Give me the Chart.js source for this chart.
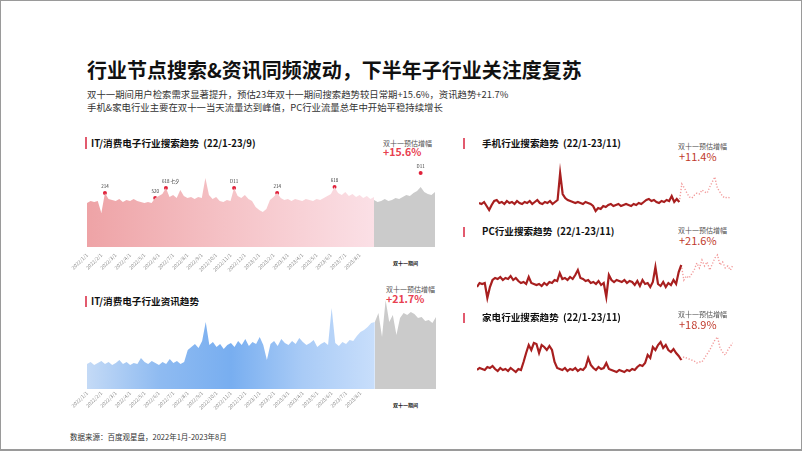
<!DOCTYPE html>
<html lang="zh-CN">
<head>
<meta charset="utf-8">
<title>行业节点搜索&资讯同频波动</title>
<script src="https://cdn.jsdelivr.net/npm/chart.js@4.4.1/dist/chart.umd.min.js"></script>
<style>
    html, body { margin: 0; padding: 0; background: #fff; }
    body { width: 802px; height: 451px; position: relative; overflow: hidden;
           font-family: "Noto Sans CJK SC", "Noto Sans", sans-serif; color: #222; }
    .frame { position: absolute; left: 0; top: 0; width: 802px; height: 451px; box-sizing: border-box;
             border: 1px solid #9a9a9a; border-bottom-width: 2px; pointer-events: none; }
    .t { position: absolute; white-space: pre; line-height: 1; }
    .bar { position: absolute; width: 2px; background: #e25a6e; }
    canvas { position: absolute; }
    .h1 { font-size: 20px; font-weight: bold; color: #111; }
    .sub { font-size: 9.4px; color: #333; }
    .ct { font-size: 9.6px; font-weight: bold; color: #111; }
    .est { font-size: 7px; color: #555; }
    .pct { font-size: 10.5px; font-weight: bold; color: #e8404f; }
    .pct2 { font-size: 11px; color: #c0392b; }
    .d11 { font-size: 5px; font-weight: bold; color: #222; }
    .src { font-size: 7.5px; color: #333; }
</style>
</head>
<body>
<div class="t h1" style="left:87px;top:60px">行业节点搜索&amp;资讯同频波动，下半年子行业关注度复苏</div>
<div class="t sub" style="left:87px;top:90px">双十一期间用户检索需求显著提升，预估23年双十一期间搜索趋势较日常期+15.6%，资讯趋势+21.7%</div>
<div class="t sub" style="left:87px;top:103px">手机&amp;家电行业主要在双十一当天流量达到峰值，PC行业流量总年中开始平稳持续增长</div>

<div class="bar" style="left:85px;top:137px;height:12px"></div>
<div class="t ct" style="left:91px;top:138.5px">IT/消费电子行业搜索趋势  (22/1-23/9)</div>
<div class="t est" style="left:383px;top:139.5px">双十一预估增幅</div>
<div class="t pct" style="left:383px;top:146.7px">+15.6%</div>
<div class="t d11" style="left:393px;top:259.5px">双十一期间</div>
<canvas id="itSearchChart" width="372" height="118" style="left:67px;top:157px"></canvas>

<div class="bar" style="left:85px;top:296px;height:11px"></div>
<div class="t ct" style="left:91px;top:297px">IT/消费电子行业资讯趋势</div>
<div class="t est" style="left:386px;top:286.2px">双十一预估增幅</div>
<div class="t pct" style="left:386px;top:293.5px">+21.7%</div>
<div class="t d11" style="left:393px;top:401.5px">双十一期间</div>
<canvas id="itNewsChart" width="369" height="130" style="left:67px;top:287px"></canvas>

<div class="bar" style="left:463px;top:138px;height:11px"></div>
<div class="t ct" style="left:482px;top:138.5px">手机行业搜索趋势  (22/1-23/11)</div>
<div class="t est" style="left:678px;top:143px">双十一预估增幅</div>
<div class="t pct2" style="left:679px;top:150.5px">+11.4%</div>
<canvas id="phoneChart" width="251" height="60" style="left:479px;top:160px"></canvas>

<div class="bar" style="left:463px;top:227px;height:10px"></div>
<div class="t ct" style="left:482px;top:227px">PC行业搜索趋势  (22/1-23/11)</div>
<div class="t est" style="left:678px;top:226.8px">双十一预估增幅</div>
<div class="t pct2" style="left:679px;top:234.5px">+21.6%</div>
<canvas id="pcChart" width="256" height="60" style="left:477px;top:250px"></canvas>

<div class="bar" style="left:463px;top:313px;height:10px"></div>
<div class="t ct" style="left:482px;top:313px">家电行业搜索趋势  (22/1-23/11)</div>
<div class="t est" style="left:678px;top:311.3px">双十一预估增幅</div>
<div class="t pct2" style="left:679px;top:319px">+18.9%</div>
<canvas id="homeChart" width="256" height="55" style="left:477px;top:325px"></canvas>

<div class="t src" style="left:70px;top:433px">数据来源：百度观星盘，2022年1月-2023年8月</div>
<div class="frame"></div>

<script>
"use strict";

// month ticks under the two left charts, one every 4 points
const monthTicks = [
    '2022/1/1', '2022/2/1', '2022/3/1', '2022/4/1', '2022/5/1', '2022/6/1',
    '2022/7/1', '2022/8/1', '2022/9/1', '2022/10/1', '2022/11/1', '2022/12/1',
    '2023/1/1', '2023/2/1', '2023/3/1', '2023/4/1', '2023/5/1', '2023/6/1',
    '2023/7/1', '2023/8/1'
];
const PER_MONTH = 4;

// IT/消费电子 搜索 (daily period) + 双十一 period
const itSearch = [
    44, 46, 45, 46, 34, 54, 48, 47, 46, 48, 45, 47, 46, 48, 46, 45, 44, 45, 44, 49,
    51, 53, 59, 50, 52, 49, 57, 51, 49, 50, 48, 50, 49, 69, 52, 48, 50, 46, 45, 47,
    46, 59, 51, 49, 52, 48, 46, 40, 37, 35, 38, 47, 50, 54, 49, 47, 48, 46, 48, 47,
    46, 48, 47, 46, 48, 47, 49, 51, 53, 60, 54, 52, 55, 51, 53, 50, 52, 49, 51, 48,
    50
];
const itSearchD11 = [47, 45, 46, 48, 46, 47, 49, 48, 50, 52, 51, 54, 56, 60, 55, 53, 52, 55];
const itMarkIdx = [5, 19, 22, 41, 53, 69, 93];
const itMarkVal = [54, 49, 59, 59, 54, 60, 74];
const itMarkText = ['214', '520', '618 七夕', 'D11', '214', '618', 'D11'];

// IT/消费电子 资讯
const itNews = [
    25, 27, 24, 26, 28, 25, 27, 24, 26, 29, 25, 27, 24, 26, 25, 31, 27, 25, 28, 26,
    24, 27, 25, 30, 26, 28, 25, 27, 39, 42, 45, 41, 48, 67, 44, 47, 42, 45, 40, 44,
    46, 42, 48, 44, 50, 43, 47, 45, 52, 44, 29, 45, 48, 43, 50, 46, 44, 48, 45, 51,
    47, 44, 46, 49, 42, 45, 47, 44, 81, 46, 43, 47, 45, 49, 48, 53, 57, 59, 62, 66,
    67
];
const itNewsD11 = [67, 76, 52, 89, 67, 74, 54, 71, 76, 74, 77, 75, 71, 72, 68, 69, 66, 72];

// 手机 / PC / 家电 搜索: actual line + 双十一 forecast (forecast starts on the last actual point)
const phoneLine = [
    17, 16, 18, 14, 10, 15, 19, 20, 17, 18, 16, 19, 17, 18, 16, 19, 17, 16, 18, 17,
    19, 16, 18, 20, 17, 16, 18, 17, 19, 16, 18, 20, 47, 26, 22, 20, 19, 18, 17, 18,
    17, 16, 18, 17, 16, 14, 9, 12, 11, 14, 13, 15, 16, 14, 15, 16, 14, 15, 16, 15,
    14, 16, 15, 17, 16, 18, 20, 21, 19, 20, 18, 17, 19, 18, 20, 19, 24, 18, 21, 18
];
const phoneForecast = [18, 36, 32, 27, 23, 22, 25, 27, 26, 30, 28, 27, 33, 38, 43, 32, 28, 24, 22, 23, 22];

const pcLine = [
    23, 27, 26, 27, 12, 23, 30, 32, 31, 33, 30, 32, 31, 34, 30, 32, 29, 27, 28, 26,
    33, 27, 26, 25, 26, 24, 27, 25, 28, 27, 30, 29, 37, 31, 32, 30, 33, 31, 35, 40,
    32, 31, 29, 30, 27, 28, 26, 29, 25, 27, 13, 35, 30, 28, 30, 29, 28, 30, 27, 29,
    28, 25, 29, 24, 30, 26, 27, 23, 28, 43, 26, 24, 28, 23, 27, 25, 30, 26, 38, 45
];
const pcForecast = [45, 30, 34, 32, 36, 40, 47, 42, 50, 44, 48, 40, 46, 52, 55, 45, 48, 42, 44, 40, 45];

const homeLine = [
    10, 12, 11, 10, 13, 12, 14, 11, 9, 12, 10, 11, 9, 12, 10, 8, 11, 10, 18, 27,
    35, 30, 37, 36, 27, 35, 33, 30, 34, 30, 18, 12, 11, 10, 12, 9, 11, 10, 12, 9,
    11, 10, 13, 22, 15, 12, 10, 13, 11, 12, 17, 11, 10, 9, 8, 10, 9, 8, 10, 9,
    11, 10, 13, 15, 14, 17, 25, 22, 33, 30, 35, 38, 32, 35, 30, 28, 31, 27, 24, 20
];
const homeForecast = [20, 23, 22, 21, 20, 19, 17, 18, 18, 22, 26, 30, 35, 40, 43, 32, 28, 25, 30, 34, 37];

Chart.defaults.font.family = '"Noto Sans CJK SC", "Noto Sans", sans-serif';

function tickLabels(n) {
    const labels = [];
    for (let i = 0; i < n; i++) {
        const m = i / PER_MONTH;
        labels.push((i % PER_MONTH === 0 && monthTicks[m] !== undefined) ? monthTicks[m] : '');
    }
    return labels;
}

function padNulls(n, arr) {
    return new Array(n).fill(null).concat(arr);
}

// horizontal gradient from the left of the plot to the given category index
function hGradient(chart, stops, toIndex) {
    const area = chart.chartArea;
    if (!area) return stops[0];
    const x1 = chart.scales.x.getPixelForValue(toIndex);
    const g = chart.ctx.createLinearGradient(area.left, 0, x1, 0);
    stops.forEach((c, i) => g.addColorStop(i / (stops.length - 1), c));
    return g;
}

const markLabels = {
    id: 'markLabels',
    afterDatasetsDraw(chart) {
        const meta = chart.getDatasetMeta(2);
        const ctx = chart.ctx;
        ctx.save();
        ctx.font = '4.5px "Noto Sans CJK SC", sans-serif';
        ctx.fillStyle = '#333';
        ctx.textBaseline = 'middle';
        itMarkIdx.forEach((idx, k) => {
            const pt = meta.data[idx];
            const txt = itMarkText[k];
            if (txt.indexOf(' ') > 0) {
                ctx.textAlign = 'left';
                ctx.fillText(txt, pt.x - 4, pt.y - 7);
            } else {
                ctx.textAlign = 'center';
                ctx.fillText(txt, pt.x, pt.y - 7);
            }
        });
        ctx.restore();
    }
};

function areaChart(id, main, d11, ymax, stops, tickPad, marks) {
    const n = main.length + d11.length - 1;
    const datasets = [
        {
            data: main,
            fill: 'origin',
            borderColor: 'rgba(0,0,0,0)',
            borderWidth: 0,
            pointRadius: 0,
            tension: 0,
            backgroundColor: (c) => hGradient(c.chart, stops, main.length - 1)
        },
        {
            data: padNulls(main.length - 1, d11),
            fill: 'origin',
            borderColor: 'rgba(0,0,0,0)',
            borderWidth: 0,
            pointRadius: 0,
            tension: 0,
            backgroundColor: '#cbcbcb'
        }
    ];
    if (marks) {
        const markData = new Array(n).fill(null);
        itMarkIdx.forEach((idx, k) => { markData[idx] = itMarkVal[k]; });
        datasets.push({
            data: markData,
            showLine: false,
            fill: false,
            clip: false,
            pointRadius: 2,
            pointBorderWidth: 0,
            pointBackgroundColor: '#e0213a'
        });
    }
    return new Chart(document.getElementById(id), {
        type: 'line',
        data: { labels: tickLabels(n), datasets: datasets },
        options: {
            responsive: false,
            animation: false,
            devicePixelRatio: 1,
            layout: { padding: { left: 20, top: 10, right: 0, bottom: 0 } },
            plugins: { legend: { display: false }, tooltip: { enabled: false } },
            scales: {
                x: {
                    grid: { display: false, drawTicks: false },
                    border: { display: false },
                    ticks: {
                        autoSkip: false, minRotation: 45, maxRotation: 45,
                        padding: tickPad, color: '#8a8a8a', font: { size: 5 }
                    },
                    afterFit: (s) => {
                        s.height = 28;
                        s.paddingLeft = 0;
                        s.paddingRight = 0;
                    }
                },
                y: { display: false, min: 0, max: ymax }
            }
        },
        plugins: marks ? [markLabels] : []
    });
}

function trendChart(id, line, forecast, ymax) {
    const n = line.length + forecast.length - 1;
    return new Chart(document.getElementById(id), {
        type: 'line',
        data: {
            labels: new Array(n).fill(''),
            datasets: [
                {
                    data: line,
                    borderColor: '#a81f1f',
                    borderWidth: 2.2,
                    pointRadius: 0,
                    tension: 0,
                    fill: false
                },
                {
                    data: padNulls(line.length - 1, forecast),
                    borderColor: '#f29a9a',
                    borderWidth: 1.4,
                    borderDash: [1.2, 1.8],
                    pointRadius: 0,
                    tension: 0,
                    fill: false
                }
            ]
        },
        options: {
            responsive: false,
            animation: false,
            devicePixelRatio: 1,
            layout: { padding: 0 },
            plugins: { legend: { display: false }, tooltip: { enabled: false } },
            scales: {
                x: { display: false },
                y: { display: false, min: 0, max: ymax }
            }
        }
    });
}

areaChart('itSearchChart', itSearch, itSearchD11, 80, ['#eea3a6', '#f5c3c7', '#fbe0e6'], 5, true);
areaChart('itNewsChart', itNews, itNewsD11, 92, ['#c4daf6', '#8fbbf1', '#78aef0', '#a9cbf6', '#c8defb'], 1, false);
trendChart('phoneChart', phoneLine, phoneForecast, 60);
trendChart('pcChart', pcLine, pcForecast, 60);
trendChart('homeChart', homeLine, homeForecast, 55);
</script>
</body>
</html>
